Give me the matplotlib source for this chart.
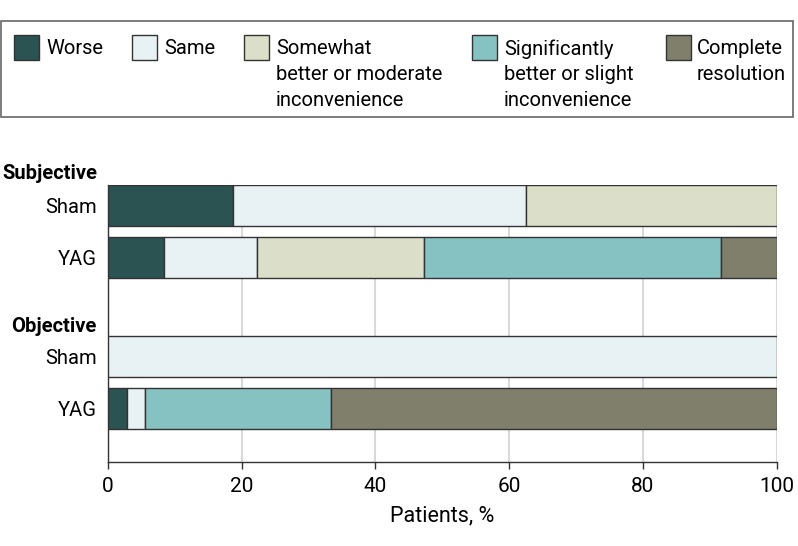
import matplotlib

matplotlib.use("Agg")
import matplotlib.pyplot as plt  # noqa: E402
import numpy as np  # noqa: E402
from matplotlib.patches import Rectangle  # noqa: E402
from matplotlib.transforms import blended_transform_factory  # noqa: E402

plt.rcParams["font.family"] = ["Roboto", "DejaVu Sans"]

# data (percent of patients)
categories = ["Worse", "Same", "Somewhat\nbetter or moderate\ninconvenience",
              "Significantly\nbetter or slight\ninconvenience", "Complete\nresolution"]
colors = ["#2B5352", "#E8F2F4", "#DBDEC8", "#86C2C2", "#807F6B"]
groups = ["Subjective", "Objective"]
arms = ["Sham", "YAG", "Sham", "YAG"]
subjective_sham = [18.75, 43.75, 37.5, 0.0, 0.0]
subjective_yag = [8.33, 13.89, 25.0, 44.45, 8.33]
objective_sham = [0.0, 100.0, 0.0, 0.0, 0.0]
objective_yag = [2.78, 2.78, 0.0, 27.77, 66.67]

W, H = 798, 546
fig = plt.figure(figsize=(W / 100, H / 100), dpi=100)
ax = fig.add_axes([108 / W, 1 - 461.7 / H, 668.7 / W, 277 / H])

ypos = np.array([0.0, 1.0, 2.92, 3.92])
rows = np.array([subjective_sham, subjective_yag, objective_sham, objective_yag])
left = np.zeros(len(rows))
for j, cat in enumerate(categories):
    vals = rows[:, j]
    mask = vals > 0
    ax.barh(ypos[mask], vals[mask], left=left[mask], height=0.79,
            color=colors[j], edgecolor="#333333", linewidth=1, zorder=3)
    left += vals

ax.set_xlim(0, 100)
ax.set_ylim(4.94, -0.395)
ax.set_xticks([0, 20, 40, 60, 80, 100])
ax.xaxis.grid(True, color="#D9D9D9", linewidth=1.5, zorder=0)
ax.set_yticks(ypos)
ax.set_yticklabels(arms)
ax.tick_params(axis="y", length=0, pad=8, labelsize=14.5)
ax.tick_params(axis="x", length=5, width=1, color="#333333", labelsize=15, pad=6)
for s in ["top", "right"]:
    ax.spines[s].set_visible(False)
for s in ["left", "bottom"]:
    ax.spines[s].set_color("#333333")
    ax.spines[s].set_linewidth(1)
ax.set_xlabel("Patients, %", fontsize=15.5, labelpad=7)

trans = blended_transform_factory(ax.transAxes, ax.transData)
for g, yy in zip(groups, [-0.62, 2.33]):
    ax.text(-0.0165, yy, g, transform=trans, ha="right", va="center",
            fontsize=14.5, fontweight="bold", clip_on=False)

# legend drawn in figure pixels
fig.patches.append(Rectangle((1 / W, 1 - 117 / H), 792 / W, 96 / H,
                             transform=fig.transFigure, fill=False,
                             edgecolor="#666666", linewidth=1.2))
box_x = [14, 132, 244, 472, 666]
text_x = [46, 164, 276, 504, 697]
for j, cat in enumerate(categories):
    fig.patches.append(Rectangle((box_x[j] / W, 1 - 60 / H), 25 / W, 25 / H,
                                 transform=fig.transFigure, facecolor=colors[j],
                                 edgecolor="#333333", linewidth=1))
    fig.text(text_x[j] / W, 1 - 39 / H, cat, ha="left", va="top",
             fontsize=14.5, linespacing=1.45)

fig.savefig("out.png", dpi=100)
